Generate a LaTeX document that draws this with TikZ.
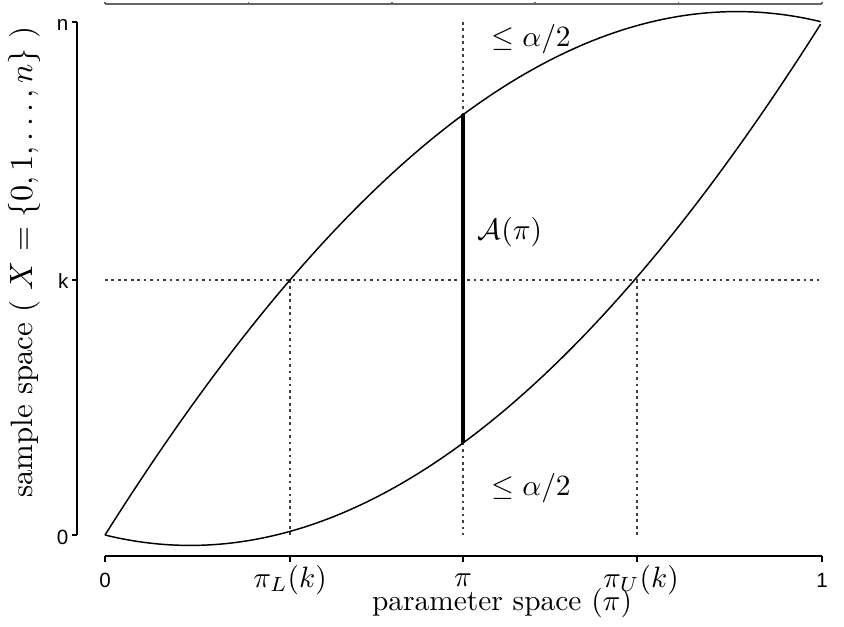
\documentclass[tikz,border=0pt]{standalone}
\usepackage{fontspec}
\newfontfamily\ticksans{Liberation Sans}
\usetikzlibrary{positioning}
\tikzset{
  curveline/.style={line width=0.5pt},
  guideline/.style={line width=0.45pt, dash pattern=on 0.9pt off 1.3pt, black!75},
  axisline/.style={line width=0.5pt},
  ticklabel/.style={font=\ticksans\fontsize{7}{8}\selectfont, inner sep=0pt},
  mathlabel/.style={inner sep=0pt, anchor=base},
  declare function={upc(\t)=\t+\t*(1-\t)*(1.216+0.128*\t);}
}

\begin{document}
\begin{tikzpicture}[x=0.34pt, y=-0.34pt]
    \useasboundingbox (0,0) rectangle (844,626);
    % plot region: pi in [0,1] -> 105..822, X in [0,n] -> 535..22
    \coordinate (org) at (105,535);
    \coordinate (kleft) at (105,280);
    \coordinate (kright) at (822,280);
    \coordinate (piLtop) at (290,280);
    \coordinate (piLbot) at (290,535);
    \coordinate (piUtop) at (637,280);
    \coordinate (piUbot) at (637,535);
    \coordinate (pitop) at (463,22);
    \coordinate (pibot) at (463,535);
    \coordinate (Atop) at (463,{535-513*upc(0.5)});
    \coordinate (Abot) at (463,{535-513*(1-upc(0.5))});

    % guides
    \draw[guideline] (kleft) -- (kright);
    \draw[guideline] (piLtop) -- (piLbot);
    \draw[guideline] (piUtop) -- (piUbot);
    \draw[guideline] (pitop) -- (pibot);

    % the two bounds
    \draw[curveline] plot[domain=0:1, samples=150, smooth] ({105+717*\x},{535-513*upc(\x)});
    \draw[curveline] plot[domain=0:1, samples=150, smooth] ({105+717*\x},{535-513*(1-upc(1-\x))});
    \draw[line width=1.3pt] (Atop) -- (Abot);

    % axes
    \draw[axisline, black!60] (105,4) -- (822,4);
    \foreach \tx in {105,248.4,391.8,535.2,678.6,822}
      \draw[axisline, black!60] (\tx,4) -- (\tx,2);
    \draw[axisline] (105,556) -- (822,556);
    \foreach \tx in {105,290,463,637,822}
      \draw[axisline] (\tx,556) -- (\tx,562);
    \draw[axisline] (77,22) -- (77,535);
    \foreach \ty in {22,280,535}
      \draw[axisline] (77,\ty) -- (72,\ty);

    % tick labels
    \node[ticklabel, anchor=east] (ytick0) at (69,537) {0};
    \node[ticklabel, anchor=east] (ytickk) at (69,281) {k};
    \node[ticklabel, anchor=east] (ytickn) at (69,25) {n};
    \node[ticklabel] (xtick0) at (105,580) {0};
    \node[ticklabel] (xtick1) at (822,580) {1};
    \node[mathlabel] (xtickL) at (290,587) {$\pi_L(k)$};
    \node[mathlabel] (xtickpi) at (463,586) {$\pi$};
    \node[mathlabel] (xtickU) at (641,587) {$\pi_U(k)$};

    % titles
    \node[mathlabel] (xtitle) at (502,610) {parameter space $(\pi)$};
    \node[inner sep=0pt, rotate=90, font=\fontsize{10.5}{12}\selectfont] (ytitle) at (24,262)
      {sample space ( $X=\{0,1,\ldots,n\}$ )};

    % annotations
    \node[mathlabel] (tailup) at (531,47) {$\leq\alpha/2$};
    \node[mathlabel] (taildown) at (531,495) {$\leq\alpha/2$};
    \node[mathlabel] (accept) at (510,240) {$\mathcal{A}(\pi)$};
  \end{tikzpicture}
\end{document}
